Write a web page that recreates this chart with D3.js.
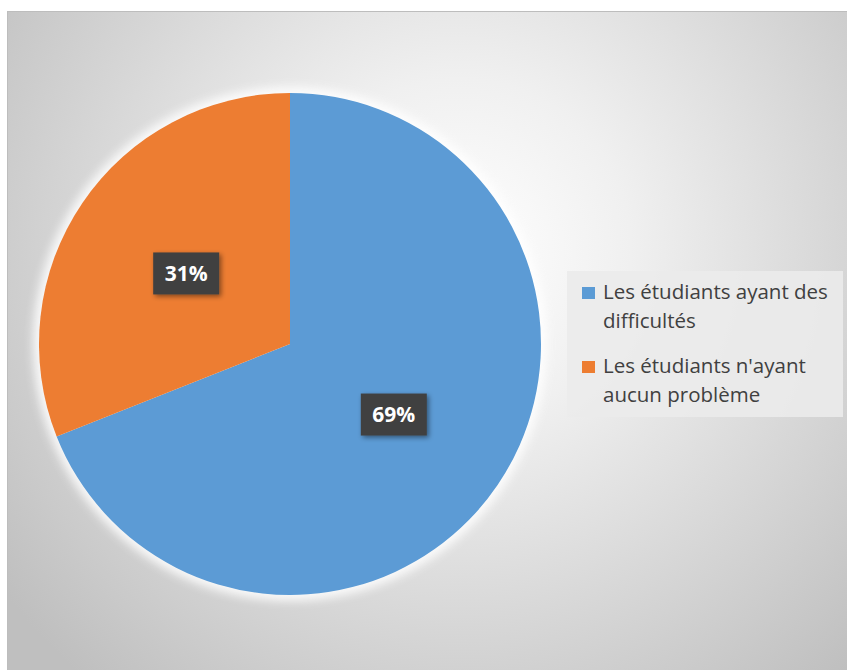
<!DOCTYPE html>
<html>
<head>
<meta charset="utf-8">
<script src="https://cdn.jsdelivr.net/npm/d3@7"></script>
<style>
  html, body { margin: 0; padding: 0; background: #ffffff; }
  svg { display: block; }
</style>
</head>
<body>
<svg id="chart" width="847" height="670"></svg>
<script>
// Répartition des étudiants
const categories = ["Les étudiants ayant des difficultés", "Les étudiants n'ayant aucun problème"];
const legendLines = [["Les étudiants ayant des", "difficultés"], ["Les étudiants n'ayant", "aucun problème"]];
const values = [69, 31];
const labels = ["69%", "31%"];
const colors = ["#5B9BD5", "#ED7D31"];

const svg = d3.select("#chart");
const W = 847, H = 670;
const defs = svg.append("defs");

// chart-area background: soft radial gradient
const bg = defs.append("radialGradient")
  .attr("id", "bgGrad")
  .attr("gradientUnits", "userSpaceOnUse")
  .attr("cx", 460).attr("cy", 250).attr("r", 570);
bg.append("stop").attr("offset", "0").attr("stop-color", "#ffffff");
bg.append("stop").attr("offset", "0.3").attr("stop-color", "#f0f0f0");
bg.append("stop").attr("offset", "1").attr("stop-color", "#bfbfbf");

const glow = defs.append("filter").attr("id", "glow")
  .attr("x", "-20%").attr("y", "-20%").attr("width", "140%").attr("height", "140%");
glow.append("feGaussianBlur").attr("stdDeviation", 5);

const soft = defs.append("filter").attr("id", "soft")
  .attr("x", "-5%").attr("y", "-5%").attr("width", "110%").attr("height", "110%");
soft.append("feGaussianBlur").attr("stdDeviation", 0.6);

const shadow = defs.append("filter").attr("id", "lblShadow")
  .attr("x", "-30%").attr("y", "-30%").attr("width", "160%").attr("height", "160%");
shadow.append("feDropShadow").attr("dx", 2).attr("dy", 2).attr("stdDeviation", 2.5)
  .attr("flood-color", "#000").attr("flood-opacity", 0.45);

// chart area
svg.append("rect")
  .attr("x", 7.5).attr("y", 11.5)
  .attr("width", W + 20).attr("height", H + 20)
  .attr("fill", "url(#bgGrad)")
  .attr("stroke", "#bdbdbd").attr("stroke-width", 1);

// pie
const cx = 290, cy = 344, r = 251;
const pie = d3.pie().sort(null).value(d => d)(values);
const arc = d3.arc().innerRadius(0).outerRadius(r);
const labelArc = d3.arc().innerRadius(0).outerRadius(r);

const g = svg.append("g").attr("transform", `translate(${cx},${cy})`);

g.append("circle").attr("r", r + 6)
  .attr("fill", "#ffffff").attr("opacity", 0.85)
  .attr("filter", "url(#glow)");

g.selectAll("path.slice")
  .data(pie)
  .join("path")
  .attr("class", "slice")
  .attr("d", arc)
  .attr("fill", (d, i) => colors[i])
  .attr("filter", "url(#soft)");

// data labels
const lbl = g.selectAll("g.lbl")
  .data(pie)
  .join("g")
  .attr("class", "lbl")
  .attr("transform", d => {
    const [x, y] = labelArc.centroid(d);
    return `translate(${x},${y})`;
  });

lbl.append("rect")
  .attr("x", -33).attr("y", -21)
  .attr("width", 66).attr("height", 42)
  .attr("fill", "#3f3f3f")
  .attr("filter", "url(#lblShadow)");

lbl.append("text")
  .attr("text-anchor", "middle")
  .attr("dy", "0.36em")
  .attr("fill", "#ffffff")
  .attr("font-family", "'Open Sans', sans-serif")
  .attr("font-weight", "bold")
  .attr("font-size", 21)
  .text((d, i) => labels[i]);

// legend
const legend = svg.append("g");
legend.append("rect")
  .attr("x", 567).attr("y", 271)
  .attr("width", 276).attr("height", 146)
  .attr("fill", "#ebebeb").attr("opacity", 0.9);

const entryY = [299, 373];
const item = legend.selectAll("g.item")
  .data(categories)
  .join("g")
  .attr("class", "item")
  .attr("transform", (d, i) => `translate(582,${entryY[i]})`);

item.append("rect")
  .attr("x", 0).attr("y", -12)
  .attr("width", 13).attr("height", 12)
  .attr("fill", (d, i) => colors[i]);

item.each(function (d, i) {
  const t = d3.select(this).append("text")
    .attr("x", 21).attr("y", 0)
    .attr("fill", "#404040")
    .attr("font-family", "'Open Sans', sans-serif")
    .attr("font-size", 20.5);
  legendLines[i].forEach((line, k) => {
    t.append("tspan").attr("x", 21).attr("y", k * 29).text(line);
  });
});
</script>
</body>
</html>
